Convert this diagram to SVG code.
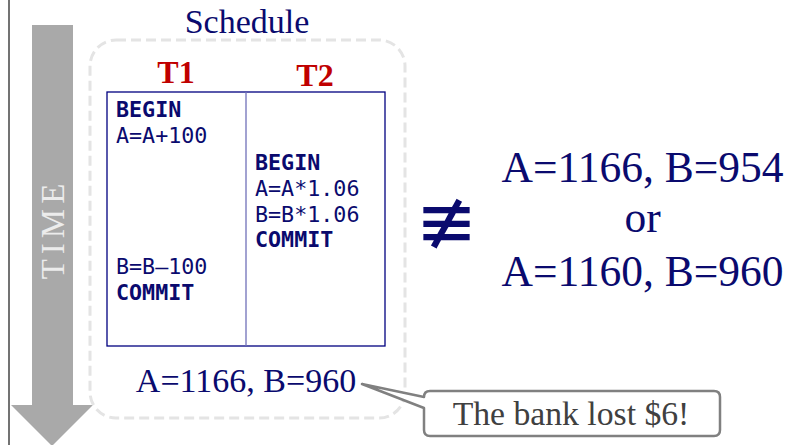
<svg xmlns="http://www.w3.org/2000/svg" width="799" height="445" viewBox="0 0 799 445">
<style>
.serif{font-family:"Liberation Serif","Times New Roman",serif;}
.navy{fill:#0a0a6e;}
.mono{font-family:"DejaVu Sans Mono",monospace;font-size:21.7px;fill:#0a0a6e;}
.bold{font-weight:bold;}
.hdr{font-family:"Liberation Serif",serif;font-size:32px;font-weight:bold;fill:#c00000;text-anchor:middle;}
</style>
<rect width="799" height="445" fill="#ffffff"/>
<line x1="9" y1="0" x2="9" y2="445" stroke="#444444" stroke-width="1.5"/>
<g id="time-arrow">
<polygon points="32,25 73,25 73,405 93,405 52,446 11,405 32,405" fill="#a9a9a9"/>
<text class="serif" transform="translate(63.5,229) rotate(-90)" text-anchor="middle" font-size="33" letter-spacing="5" fill="#ececec">TIME</text>
</g>
<g id="schedule">
<rect x="90" y="40" width="315" height="378" rx="26" ry="26" fill="none" stroke="#e4e4e4" stroke-width="3" stroke-dasharray="10 5"/>
<text class="serif navy" x="247" y="33" font-size="34" text-anchor="middle">Schedule</text>
<text class="hdr" x="176" y="83">T1</text>
<text class="hdr" x="315" y="86">T2</text>
<rect x="107" y="92" width="278" height="254" fill="none" stroke="#000080" stroke-width="1.3"/>
<line x1="246" y1="92" x2="246" y2="346" stroke="#7070b8" stroke-width="1.3"/>
<text class="mono bold" x="116" y="117">BEGIN</text>
<text class="mono" x="116" y="143">A=A+100</text>
<text class="mono" x="116" y="274">B=B–100</text>
<text class="mono bold" x="116" y="300">COMMIT</text>
<text class="mono bold" x="255" y="170">BEGIN</text>
<text class="mono" x="255" y="196">A=A*1.06</text>
<text class="mono" x="255" y="222">B=B*1.06</text>
<text class="mono bold" x="255" y="247">COMMIT</text>
<text class="serif navy" x="246" y="392" font-size="34" text-anchor="middle">A=1166, B=960</text>
</g>
<g id="not-equiv">
<text x="446.5" y="247" font-family="DejaVu Sans,sans-serif" font-size="74" text-anchor="middle" class="navy">≢</text>
</g>
<g id="results">
<text class="serif navy" x="642.5" y="182" font-size="43.5" text-anchor="middle">A=1166, B=954</text>
<text class="serif navy" x="642.5" y="232" font-size="43.5" text-anchor="middle">or</text>
<text class="serif navy" x="642.5" y="286" font-size="43.5" text-anchor="middle">A=1160, B=960</text>
</g>
<g id="callout">
<path d="M424,408 L362,384 L424,397 Q424,391 430,391 H714 Q720,391 720,397 V430 Q720,436 714,436 H430 Q424,436 424,430 Z" fill="#ffffff" stroke="#808080" stroke-width="2.5" stroke-linejoin="round"/>
<text class="serif" x="571" y="425" font-size="33.7" text-anchor="middle" fill="#404040">The bank lost $6!</text>
</g>
</svg>
